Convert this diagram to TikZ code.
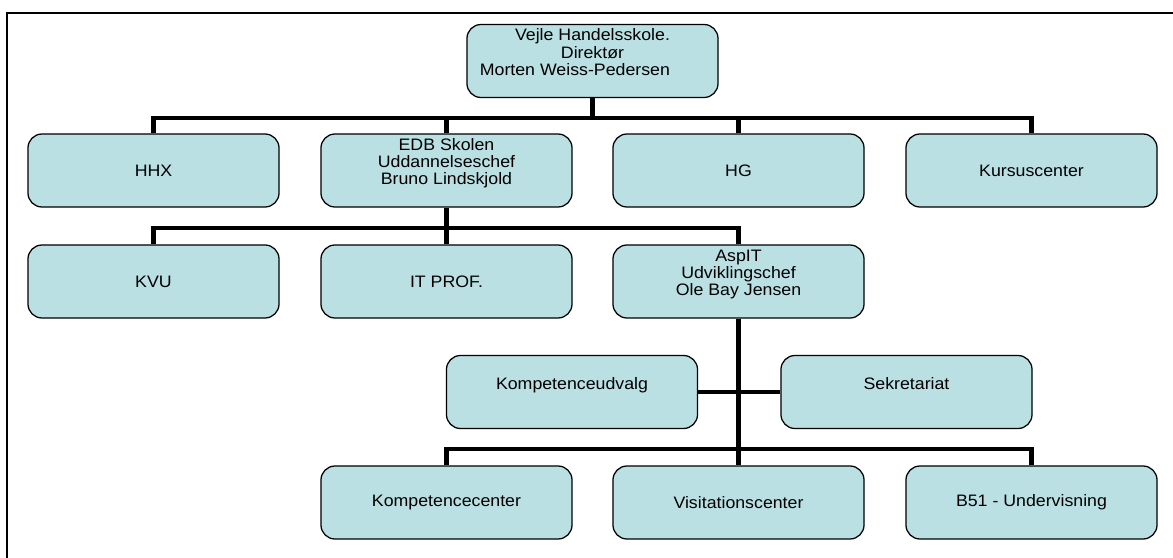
\documentclass[tikz,border=0pt]{standalone}
\usepackage{fontspec}
\setmainfont[FakeStretch=1.07]{Liberation Sans}
\definecolor{orgfill}{RGB}{187,224,227}
\newcommand{\liftup}[1]{\raisebox{4.6pt}[\height][\depth]{\begin{tabular}{@{}c@{}}#1\end{tabular}}}
\tikzset{
  unit/.style={draw=black, line width=0.9pt, fill=orgfill, rounded corners=10pt,
    minimum width=6.275cm, minimum height=1.825cm, inner sep=2pt,
    font=\fontsize{11.8pt}{12pt}\selectfont},
  conn/.style={line width=3.2pt},
  aide/.style={line width=2.3pt}
}
\begin{document}
\begin{tikzpicture}[x=0.025cm,y=-0.025cm]
\useasboundingbox (0,0) rectangle (1173,558);
\draw[line width=1.4pt] (7,565) -- (7,13) -- (1180,13);
%% top
\node[unit] (dir) at (592.5,61) {\liftup{Vejle Handelsskole.\\ Direktør\\ Morten Weiss-Pedersen\hspace*{25pt}}};
%% first row
\node[unit] (hhx) at (153.5,170.5) {HHX};
\node[unit] (edb) at (446.5,170.5) {\liftup{EDB Skolen\\ Uddannelseschef\\ Bruno Lindskjold}};
\node[unit] (hg) at (738.5,170.5) {HG};
\node[unit] (kurs) at (1031.5,170.5) {Kursuscenter};
%% second row
\node[unit] (kvu) at (153.5,281.5) {KVU};
\node[unit] (itprof) at (446.5,281.5) {IT PROF.};
\node[unit] (aspit) at (738.5,281.5) {\liftup{AspIT\\ Udviklingschef\\ Ole Bay Jensen}};
%% assistants
\node[unit] (kudv) at (572,392) {\liftup{Kompetenceudvalg}};
\node[unit] (sekr) at (906.5,392) {\liftup{Sekretariat}};
%% bottom row
\node[unit] (kcent) at (446.5,502.5) {Kompetencecenter};
\node[unit] (visit) at (738.5,502.5) {Visitationscenter};
\node[unit] (b51) at (1031.5,502.5) {B51 - Undervisning};
%% connectors
\coordinate (bar1) at (0,118);
\coordinate (bar2) at (0,228);
\coordinate (bar3) at (0,449);
\draw[conn] (dir.south) -- (dir.south |- bar1);
\draw[conn] (hhx.north) -- (hhx.north |- bar1) -| (kurs.north);
\draw[conn] (edb.north) -- (edb.north |- bar1);
\draw[conn] (hg.north) -- (hg.north |- bar1);
%%
\draw[conn] (edb.south) -- (edb.south |- bar2);
\draw[conn] (kvu.north) -- (kvu.north |- bar2) -| (aspit.north);
\draw[conn] (itprof.north) -- (itprof.north |- bar2);
%%
\draw[aide] (kudv.east) -- (sekr.west);
\draw[conn] (aspit.south) -- (visit.north);
\draw[conn] (kcent.north) -- (kcent.north |- bar3) -| (b51.north);
\end{tikzpicture}
\end{document}
